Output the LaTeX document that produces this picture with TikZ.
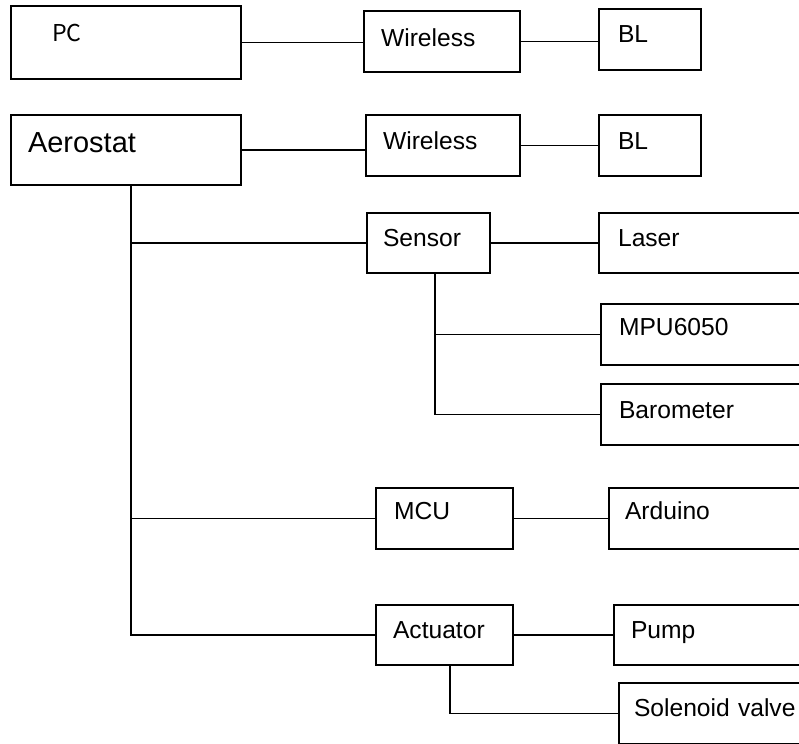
\documentclass[tikz,border=0pt]{standalone}
\usepackage{fontspec}
\setmainfont{Liberation Sans}
\newfontfamily\cjkfont{Noto Sans CJK SC}
\usepackage{tikz}

\tikzset{
  blk/.style={draw, line width=1.5pt, anchor=north west, align=left,
    inner ysep=0pt, inner xsep=0.425cm, text height=0.825cm,
    font=\fontsize{17.5}{20}\selectfont},
  conn/.style={line width=1.2pt}
}

\begin{document}
\begin{tikzpicture}[x=0.025cm, y=-0.025cm]
  \clip (0,0) rectangle (799,743);

  % Top rows
  \node[blk, inner xsep=1.0375cm, text width=3.6875cm, text height=0.875cm, text depth=0.95cm,
        font=\cjkfont\fontsize{16.5}{20}\selectfont] (pc) at (9.5,5) {PC};
  \node[blk, text width=3.05cm, text height=0.875cm, text depth=0.65cm] (wl1) at (363,10) {Wireless};
  \node[blk, inner xsep=0.475cm, text width=1.6cm, text depth=0.7cm] (bl1) at (598,8) {BL};

  \node[blk, inner xsep=0.4375cm, text width=4.8875cm, text height=0.925cm, text depth=0.825cm,
        font=\fontsize{20.6}{24}\selectfont] (aero) at (9.5,114) {Aerostat};
  \node[blk, text width=3cm, text height=0.85cm, text depth=0.675cm] (wl2) at (365,114) {Wireless};
  \node[blk, inner xsep=0.475cm, text width=1.6cm, text height=0.85cm, text depth=0.675cm] (bl2) at (598,114) {BL};

  % Sensor branch
  \node[blk, inner xsep=0.4cm, text width=2.275cm, text depth=0.675cm] (sensor) at (366,212) {Sensor};
  \node[blk, inner xsep=0.475cm, text width=4.35cm, text depth=0.675cm] (laser) at (598,212) {Laser};
  \node[blk, inner xsep=0.45cm, text width=4.35cm, text height=0.775cm, text depth=0.75cm] (mpu) at (600,303) {MPU6050};
  \node[blk, inner xsep=0.45cm, text width=4.35cm, text height=0.85cm, text depth=0.675cm] (baro) at (600,383) {Barometer};

  % MCU branch
  \node[blk, inner xsep=0.45cm, text width=2.525cm, text height=0.775cm, text depth=0.75cm] (mcu) at (375,487) {MCU};
  \node[blk, inner xsep=0.4cm, text width=4.25cm, text height=0.775cm, text depth=0.75cm] (ard) at (608,487) {Arduino};

  % Actuator branch
  \node[blk, text width=2.575cm, text depth=0.675cm] (act) at (375,604) {Actuator};
  \node[blk, text width=4.075cm, text depth=0.675cm] (pump) at (613,604) {Pump};
  \node[blk, inner xsep=0.375cm, text width=4.05cm, text depth=0.7cm] (sol) at (618,682) {Solenoid valve};

  % Horizontal links
  \draw[conn] (pc.east) -- (pc.east -| wl1.west);
  \draw[conn] (wl1.east) -- (wl1.east -| bl1.west);
  \draw[conn] (aero.east) -- (aero.east -| wl2.west);
  \draw[conn] (wl2.east) -- (wl2.east -| bl2.west);
  \draw[conn] (sensor) -- (laser);
  \draw[conn] (mcu) -- (ard);
  \draw[conn] (act) -- (pump);

  % Trunks
  \coordinate (tk) at ([xshift=0.13cm]aero.south);
  \draw[conn, line width=1.5pt] (tk) |- (sensor);
  \draw[conn] (tk) |- (mcu);
  \draw[conn] (tk) |- (act);

  \coordinate (sk) at ([xshift=0.1625cm]sensor.south);
  \draw[conn] (sk) |- (mpu);
  \draw[conn] (sk) |- (baro);

  \coordinate (ak) at ([xshift=0.1375cm]act.south);
  \draw[conn] (ak) |- (sol);
\end{tikzpicture}
\end{document}
